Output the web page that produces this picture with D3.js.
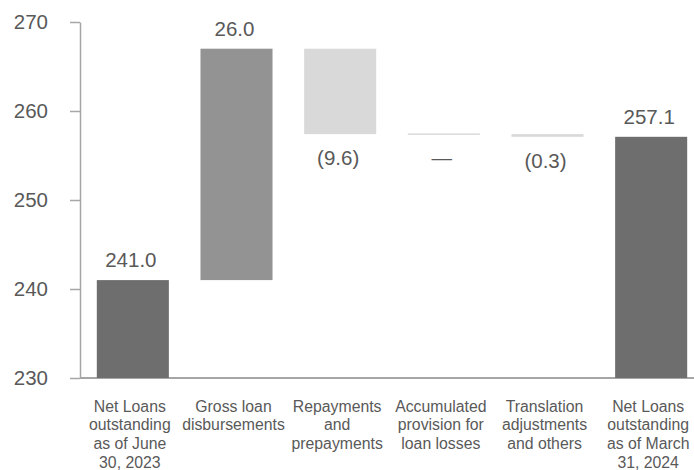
<!DOCTYPE html>
<html>
<head>
<meta charset="utf-8">
<script src="https://cdn.jsdelivr.net/npm/d3@7/dist/d3.min.js"></script>
<style>
  html, body { margin: 0; padding: 0; background: #fff; }
  svg { display: block; font-family: "Liberation Sans", Arial, sans-serif; }
</style>
</head>
<body>
<svg id="chart" width="694" height="470"></svg>
<script>
// Net loans bridge, June 30, 2023 -> March 31, 2024 (US$ billion)
const categories = [
  ["Net Loans", "outstanding", "as of June", "30, 2023"],
  ["Gross loan", "disbursements"],
  ["Repayments", "and", "prepayments"],
  ["Accumulated", "provision for", "loan losses"],
  ["Translation", "adjustments", "and others"],
  ["Net Loans", "outstanding", "as of March", "31, 2024"]
];
const values = [241.0, 26.0, -9.6, 0, -0.3, 257.1];
const kinds = ["total", "delta", "delta", "delta", "delta", "total"];
const valueLabels = ["241.0", "26.0", "(9.6)", "\u2014", "(0.3)", "257.1"];
const yTicks = [230, 240, 250, 260, 270];

const colors = { total: "#6e6e6e", up: "#939393", down: "#d9d9d9" };

// Running levels for each step of the bridge
let level = 0;
const steps = values.map((v, i) => {
  let start, end;
  if (kinds[i] === "total") { start = yTicks[0]; end = v; level = v; }
  else { start = level; end = level + v; level = end; }
  return { i, v, start, end, kind: kinds[i] };
});

const svg = d3.select("#chart");
const y = d3.scaleLinear().domain([230, 270]).range([378, 22]);
const x = d3.scaleBand().domain(d3.range(categories.length)).range([81, 703]).padding(0);
const barW = x.bandwidth() * 0.695;
const cx = i => x(i) + x.bandwidth() / 2;

// Y axis
const yAxis = svg.append("g").attr("transform", "translate(80,0)")
  .call(d3.axisLeft(y).tickValues(yTicks).tickSize(10).tickPadding(22).tickSizeOuter(0));
yAxis.select(".domain").attr("stroke", "#a6a6a6").attr("stroke-width", 1.5);
yAxis.selectAll(".tick line").attr("stroke", "#a6a6a6").attr("stroke-width", 1.5);
yAxis.selectAll(".tick text").attr("fill", "#595959")
  .style("font-size", "20.5px").style("font-family", "'Liberation Sans', Arial, sans-serif");

// Baseline
svg.append("line")
  .attr("x1", 80).attr("x2", 694).attr("y1", y(230)).attr("y2", y(230))
  .attr("stroke", "#a6a6a6").attr("stroke-width", 2);

// Bars
steps.forEach(s => {
  const top = Math.max(s.start, s.end), bot = Math.min(s.start, s.end);
  const fill = s.kind === "total" ? colors.total : (s.v > 0 ? colors.up : colors.down);
  const h = Math.max(y(bot) - y(top), 1.5);
  svg.append("rect")
    .attr("x", cx(s.i) - barW / 2)
    .attr("y", s.v === 0 ? y(top) - 0.75 : y(top))
    .attr("width", barW)
    .attr("height", h)
    .attr("fill", fill);
});

// Value labels
steps.forEach(s => {
  const neg = s.kind !== "total" && s.v <= 0;
  const top = Math.max(s.start, s.end), bot = Math.min(s.start, s.end);
  svg.append("text")
    .attr("x", cx(s.i) - 2)
    .attr("y", neg ? y(bot) + 31 : y(top) - 13)
    .attr("text-anchor", "middle")
    .attr("fill", "#595959")
    .style("font-size", "20.5px")
    .text(valueLabels[s.i]);
});

// Category labels
categories.forEach((lines, i) => {
  const t = svg.append("text")
    .attr("text-anchor", "middle")
    .attr("fill", "#595959")
    .style("font-size", "15.8px");
  lines.forEach((ln, k) => {
    t.append("tspan").attr("x", cx(i) - 3).attr("y", 411.5 + k * 18.8).text(ln);
  });
});
</script>
</body>
</html>
